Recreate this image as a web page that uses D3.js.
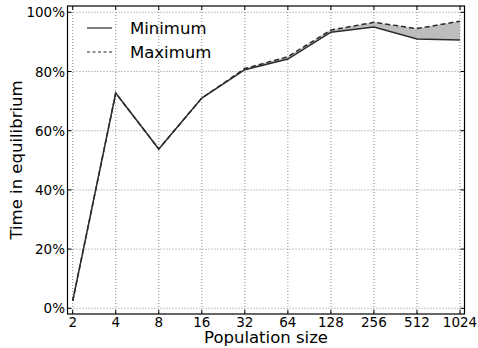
<!DOCTYPE html>
<html><head><meta charset="utf-8">
<script src="https://cdn.jsdelivr.net/npm/d3@7/dist/d3.min.js"></script>
<style>body{margin:0;background:#fff}svg{display:block}text{font-family:"DejaVu Sans",sans-serif}</style>
</head><body><svg id="c" width="478" height="348"></svg>
<script>
const categories = ["2","4","8","16","32","64","128","256","512","1024"];
const minValues = [2.5, 72.7, 53.8, 71.0, 80.6, 84.2, 93.3, 95.0, 91.0, 90.6];
const maxValues = [2.5, 72.7, 53.8, 71.0, 81.0, 85.0, 94.0, 96.6, 94.5, 97.0];
const yTicks = [0, 20, 40, 60, 80, 100];
const seriesNames = ["Minimum", "Maximum"];

const svg = d3.select("#c");
const L = 67.5, R = 464.5, T = 6, B = 314;
const x = d3.scalePoint().domain(categories).range([72.7, 460]);
const y = d3.scaleLinear().domain([0, 100]).range([308.3, 12.3]);

// grid
const g = svg.append("g");
categories.forEach(c => g.append("line").attr("x1", x(c)).attr("x2", x(c)).attr("y1", T).attr("y2", B)
  .attr("stroke", "#000").attr("stroke-opacity", 0.45).attr("stroke-width", 1).attr("stroke-dasharray", "1,2"));
yTicks.forEach(v => g.append("line").attr("x1", L).attr("x2", R).attr("y1", y(v)).attr("y2", y(v))
  .attr("stroke", "#000").attr("stroke-opacity", 0.45).attr("stroke-width", 1).attr("stroke-dasharray", "1,2"));

// area
const idx = d3.range(categories.length);
svg.append("path").datum(idx)
  .attr("d", d3.area().x(i => x(categories[i])).y0(i => y(minValues[i])).y1(i => y(maxValues[i])))
  .attr("fill", "#bdbdbd").attr("stroke", "none");

const line = arr => d3.line().x(i => x(categories[i])).y(i => y(arr[i]));
svg.append("path").datum(idx).attr("d", line(minValues)).attr("fill", "none")
  .attr("stroke", "#2b2b2b").attr("stroke-width", 1.5);
svg.append("path").datum(idx).attr("d", line(maxValues)).attr("fill", "none")
  .attr("stroke", "#2b2b2b").attr("stroke-width", 1.5).attr("stroke-dasharray", "5,3");

// frame
svg.append("rect").attr("x", L).attr("y", T).attr("width", R - L).attr("height", B - T)
  .attr("fill", "none").attr("stroke", "#000").attr("stroke-width", 1.2);

// ticks (inward, both sides)
categories.forEach(c => {
  svg.append("line").attr("x1", x(c)).attr("x2", x(c)).attr("y1", B).attr("y2", B - 4).attr("stroke", "#000");
  svg.append("line").attr("x1", x(c)).attr("x2", x(c)).attr("y1", T).attr("y2", T + 4).attr("stroke", "#000");
  svg.append("text").attr("x", x(c)).attr("y", 326.5).attr("text-anchor", "middle")
    .attr("font-size", 13.5).attr("fill", "#000").text(c);
});
yTicks.forEach(v => {
  svg.append("line").attr("x1", L).attr("x2", L + 4).attr("y1", y(v)).attr("y2", y(v)).attr("stroke", "#000");
  svg.append("line").attr("x1", R).attr("x2", R - 4).attr("y1", y(v)).attr("y2", y(v)).attr("stroke", "#000");
  svg.append("text").attr("x", 65).attr("y", y(v) + 5).attr("text-anchor", "end")
    .attr("font-size", 13.5).attr("fill", "#000").text(v + "%");
});

// axis labels
svg.append("text").attr("x", (L + R) / 2).attr("y", 343).attr("text-anchor", "middle")
  .attr("font-size", 16.5).attr("fill", "#000").text("Population size");
svg.append("text").attr("transform", `translate(22,${(T + B) / 2}) rotate(-90)`).attr("text-anchor", "middle")
  .attr("font-size", 16.5).attr("fill", "#000").text("Time in equilibrium");

// legend
const leg = svg.append("g");
[0, 1].forEach(i => {
  const yy = 28 + i * 24;
  leg.append("line").attr("x1", 87).attr("x2", 112).attr("y1", yy).attr("y2", yy)
    .attr("stroke", "#2b2b2b").attr("stroke-width", 1.2).attr("stroke-dasharray", i ? "3,2.5" : null);
  leg.append("text").attr("x", 130).attr("y", yy + 6).attr("font-size", 16.5).attr("fill", "#000").text(seriesNames[i]);
});
</script></body></html>
